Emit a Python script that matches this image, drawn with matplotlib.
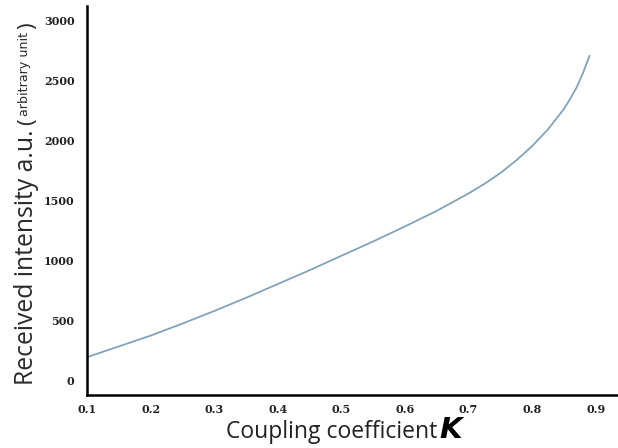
import numpy as np
import matplotlib
matplotlib.use('Agg')
import matplotlib.pyplot as plt

# values
coupling = [0.10, 0.15, 0.20, 0.25, 0.30, 0.35, 0.40, 0.45, 0.50, 0.55,
            0.60, 0.65, 0.70, 0.725, 0.75, 0.775, 0.80, 0.825, 0.85, 0.86,
            0.87, 0.88, 0.89]
intensity = [190, 280, 370, 470, 575, 685, 800, 915, 1035, 1155,
             1280, 1410, 1555, 1635, 1725, 1830, 1950, 2090, 2260, 2345,
             2440, 2560, 2700]
xticks = [0.1, 0.2, 0.3, 0.4, 0.5, 0.6, 0.7, 0.8, 0.9]
yticks = [0, 500, 1000, 1500, 2000, 2500, 3000]

W, H = 618, 448
fig = plt.figure(figsize=(W / 100, H / 100), dpi=100)
ax = fig.add_axes([87 / W, 53 / H, 531 / W, 389 / H])

ax.plot(coupling, intensity, color='#82a3b8', lw=1.3)

ax.set_xlim(0.1, 0.1 + 531 / 636)
ax.set_ylim(-125, 3117)
ax.set_xticks(xticks)
ax.set_yticks(yticks)
ax.set_xticklabels(['%.1f' % v for v in xticks])
ax.set_yticklabels([str(v) for v in yticks])
ax.tick_params(length=0)
ax.tick_params(axis='x', pad=6.5)
ax.tick_params(axis='y', pad=9)
for lab in ax.get_xticklabels() + ax.get_yticklabels():
    lab.set_fontfamily('DejaVu Serif')
    lab.set_fontweight('bold')
    lab.set_fontsize(8)
    lab.set_color('#222222')

for side in ('top', 'right'):
    ax.spines[side].set_visible(False)
for side in ('left', 'bottom'):
    ax.spines[side].set_linewidth(1.8)
    ax.spines[side].set_color('black')

lab_font = 'Open Sans'
r = fig.canvas.get_renderer()


def fit(txt, length, vertical=False):
    # scale font so the text spans `length` pixels
    fig.canvas.draw()
    bb = txt.get_window_extent(r)
    cur = bb.height if vertical else bb.width
    txt.set_fontsize(txt.get_fontsize() * length / cur)
    fig.canvas.draw()
    return txt.get_window_extent(r)


# x label: text plus a bold italic K
xt = fig.text(226 / W, (H - 438) / H, 'Coupling coefficient', family=lab_font,
              fontsize=16, color='#222222', ha='left', va='baseline')
bb = fit(xt, 211)
fig.text((bb.x1 + 2) / W, (H - 438) / H, 'K', family='DejaVu Sans',
         fontsize=21, fontweight='bold', style='italic', color='black',
         ha='left', va='baseline')

# y label in parts: main text, "(", small "arbitrary unit", ")"
yx = 33 / W
t1 = fig.text(yx, (H - 385) / H, 'Received intensity a.u.', family=lab_font,
              fontsize=16, color='#2a2a2a', rotation=90, rotation_mode='anchor',
              ha='left', va='baseline')
b1 = fit(t1, 257, vertical=True)
size = t1.get_fontsize()
t2 = fig.text(yx, (b1.y1 + 4) / H, '(', family=lab_font, fontsize=size * 0.9,
              color='#2a2a2a', rotation=90, rotation_mode='anchor',
              ha='left', va='baseline')
fig.canvas.draw()
b2 = t2.get_window_extent(r)
t3 = fig.text(yx - 5 / W, (b2.y1 + 3) / H, 'arbitrary unit', family='DejaVu Sans',
              fontsize=6.5, color='#2a2a2a', rotation=90, rotation_mode='anchor',
              ha='left', va='baseline')
b3 = fit(t3, 84, vertical=True)
fig.text(yx, (b3.y1 + 3) / H, ')', family=lab_font, fontsize=size * 0.9,
         color='#2a2a2a', rotation=90, rotation_mode='anchor',
         ha='left', va='baseline')

fig.savefig('out.png', dpi=100)
